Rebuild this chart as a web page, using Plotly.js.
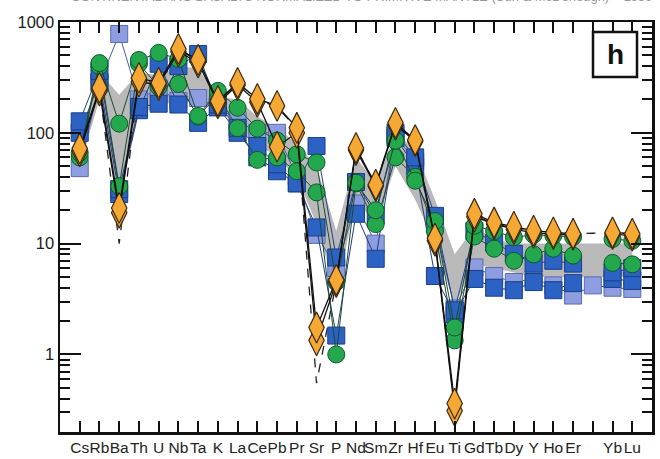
<!DOCTYPE html>
<html><head><meta charset="utf-8">
<script src="https://cdn.plot.ly/plotly-3.0.1.min.js"></script>
<style>html,body{margin:0;padding:0;background:#fff;}#chart{width:660px;height:459px;}</style>
</head><body><div id="chart"></div>
<script>
const elements = ["Cs","Rb","Ba","Th","U","Nb","Ta","K","La","Ce","Pb","Pr","Sr","P","Nd","Sm","Zr","Hf","Eu","Ti","Gd","Tb","Dy","Y","Ho","Er","Tm","Yb","Lu"];
const tickLabels = ["Cs","Rb","Ba","Th","U","Nb","Ta","K","La","Ce","Pb","Pr","Sr","P","Nd","Sm","Zr","Hf","Eu","Ti","Gd","Tb","Dy","Y","Ho","Er","","Yb","Lu"];

const bandUpper = [80,350,220,350,330,400,380,210,200,140,110,80,50,13,60,35,100,70,25,8,14,11,10,10,10,10,10,10,10];
const bandLower = [50,200,25,150,170,200,180,170,110,80,60,40,15,3.5,25,15,50,25,10,2.8,6.5,6,5.5,5,5,5,5,5,5];

const orange1 = [72,254,21,313,282,571,454,194,282,202,175,111,1.75,4.7,73,34,123,86,11.1,0.36,18.6,15.5,14.2,13.1,12.6,12.3,null,12.6,12.3];
const orange2 = [68,240,19,290,270,540,430,185,270,190,75,100,1.34,4.5,70,33,118,84,10.6,0.31,17.5,15,13.5,12.5,12.2,12,null,12.2,11.8];
const dashedTrend = [70,250,10,300,280,560,450,190,280,200,170,110,0.55,4.5,72,34,120,85,11,0.33,18,15,14,13,12.5,12.3,12.4,12.5,12.2];

const green1 = [66,426,121,454,526,464,142,239,168,109,85,64,54,4.5,35.5,20,85,37,16,1.75,14.5,13,11.4,12,11.8,11.5,null,11,10.6];
const green2 = [60,400,33,420,260,276,140,220,110,57,60,45,29,1.0,35,15,60,40,13,1.34,11.6,9,7.0,8,9,7.8,null,6.7,6.5];

const blue1 = [127,362,31,171,183,400,514,180,111,76,52,35,76,7.5,36,18,100,60,17.8,2.5,13,10.2,8.1,6.6,7.0,6.6,null,5.5,6.0];
const blue2 = [100,290,28,160,420,180,123,170,100,60,45,35,14,1.48,18.6,7.3,90,50,5.1,2.3,4.8,4.0,3.8,4.5,3.8,4.4,null,4.8,4.6];
const lightBlue = [48,280,780,200,250,194,206,170,130,100,100,40,12,6,23,10,95,55,15,2.6,6.1,5.1,4.5,4.8,4.2,3.4,4.2,4.0,3.9];

const xIdx = elements.map((_, i) => i);

const traces = [
  {x:xIdx, y:bandLower, mode:'lines', line:{width:0, color:'#b9b9b9'}, hoverinfo:'skip', showlegend:false},
  {x:xIdx, y:bandUpper, mode:'lines', line:{width:0, color:'#b9b9b9'}, fill:'tonexty', fillcolor:'#b9b9b9', hoverinfo:'skip', showlegend:false},
  {x:xIdx, y:dashedTrend, mode:'lines', line:{color:'#222', width:1.3, dash:'dash'}, connectgaps:true, showlegend:false},
  {x:xIdx, y:lightBlue, mode:'lines+markers', line:{color:'#4a5c9c', width:1}, connectgaps:true,
    marker:{symbol:'square', size:17, color:'#8d9de0', line:{color:'#5a6bb0', width:1}}, showlegend:false},
  {x:xIdx, y:blue2, mode:'lines+markers', line:{color:'#1f3f7f', width:1},
    marker:{symbol:'square', size:17, color:'#2b62c4', line:{color:'#1b3f85', width:1}}, showlegend:false},
  {x:xIdx, y:blue1, mode:'lines+markers', line:{color:'#1f3f7f', width:1},
    marker:{symbol:'square', size:17, color:'#2b62c4', line:{color:'#1b3f85', width:1}}, showlegend:false},
  {x:xIdx, y:green2, mode:'lines+markers', line:{color:'#1b4a2e', width:1},
    marker:{symbol:'circle', size:17, color:'#23a84e', line:{color:'#0e5a2a', width:1}}, showlegend:false},
  {x:xIdx, y:green1, mode:'lines+markers', line:{color:'#1b4a2e', width:1},
    marker:{symbol:'circle', size:17, color:'#23a84e', line:{color:'#0e5a2a', width:1}}, showlegend:false},
  {x:xIdx, y:orange2, mode:'lines+markers', line:{color:'#111', width:1.3},
    marker:{symbol:'diamond-tall', size:22, color:'#f6a834', line:{color:'#3b2a10', width:1.2}}, showlegend:false},
  {x:xIdx, y:orange1, mode:'lines+markers', line:{color:'#111', width:1.3},
    marker:{symbol:'diamond-tall', size:22, color:'#f6a834', line:{color:'#3b2a10', width:1.2}}, showlegend:false},
  {x:[0], y:[null], yaxis:'y2', mode:'markers', showlegend:false, hoverinfo:'skip'}
];

const yCommon = {
  type:'log', range:[-0.7, 3.0],
  ticks:'inside', ticklen:21, tickwidth:2, tickcolor:'#111',
  showline:true, linecolor:'#111', linewidth:2.5,
  showgrid:false, zeroline:false,
  minor:{ticks:'inside', ticklen:10, tickwidth:2, tickcolor:'#111', dtick:'D1', showgrid:false}
};

const layout = {
  width:660, height:459,
  margin:{l:60, r:8, t:22, b:27},
  paper_bgcolor:'#fff', plot_bgcolor:'#fff',
  font:{family:'Liberation Sans, Arial, sans-serif', color:'#222'},
  showlegend:false,
  xaxis:{
    range:[-1, 29], tickmode:'array', tickvals:xIdx, ticktext:tickLabels, tickangle:0,
    ticks:'inside', ticklen:11, tickwidth:2, tickcolor:'#111',
    showline:true, linecolor:'#111', linewidth:2.5, mirror:'ticks',
    showgrid:false, zeroline:false, tickfont:{size:15.5, color:'#222'}
  },
  yaxis:Object.assign({}, yCommon, {
    tickmode:'array', tickvals:[1,10,100,1000], ticktext:['1','10','100','1000'],
    tickfont:{size:16.5, color:'#222'}, side:'left'
  }),
  yaxis2:Object.assign({}, yCommon, {
    overlaying:'y', side:'right', tickmode:'array', tickvals:[1,10,100,1000], showticklabels:false
  }),
  shapes:[
    {type:'rect', xref:'paper', yref:'paper', x0:(593-60)/592, x1:(637-60)/592, y0:(432-77)/410, y1:(432-32)/410,
     line:{color:'#111', width:2.5}, fillcolor:'#fff'}
  ],
  annotations:[
    {xref:'paper', yref:'paper', x:(615-60)/592, y:(432-55)/410, xanchor:'center', yanchor:'middle', text:'<b>h</b>', showarrow:false,
     font:{size:28, color:'#111', family:'Liberation Sans, Arial, sans-serif'}},
    {xref:'paper', yref:'paper', x:(655-60)/592, y:(432+3)/410, xanchor:'right', yanchor:'middle',
     text:'CONTINENTAL ARC BASALTS NORMALIZED TO PRIMITIVE MANTLE (Sun &amp; McDonough)    1989', showarrow:false,
     font:{size:13, color:'#999'}}
  ]
};

Plotly.newPlot('chart', traces, layout, {staticPlot:true, displayModeBar:false});
</script></body></html>
